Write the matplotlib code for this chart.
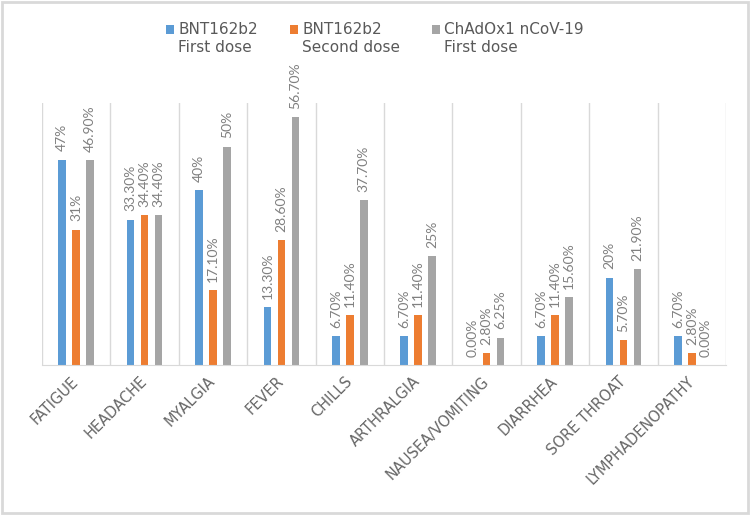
import matplotlib
matplotlib.use("Agg")
import matplotlib.pyplot as plt
import numpy as np
from matplotlib.patches import Rectangle

plt.rcParams['font.family'] = ['Lato', 'DejaVu Sans']

# データ
symptoms = ['FATIGUE', 'HEADACHE', 'MYALGIA', 'FEVER', 'CHILLS', 'ARTHRALGIA',
            'NAUSEA/VOMITING', 'DIARRHEA', 'SORE THROAT', 'LYMPHADENOPATHY']
series_names = ['BNT162b2\nFirst dose', 'BNT162b2\nSecond dose', 'ChAdOx1 nCoV-19\nFirst dose']
bnt_first = [47, 33.3, 40, 13.3, 6.7, 6.7, 0, 6.7, 20, 6.7]
bnt_second = [31, 34.4, 17.1, 28.6, 11.4, 11.4, 2.8, 11.4, 5.7, 2.8]
chad_first = [46.9, 34.4, 50, 56.7, 37.7, 25, 6.25, 15.6, 21.9, 0]
bnt_first_labels = ['47%', '33.30%', '40%', '13.30%', '6.70%', '6.70%', '0.00%', '6.70%', '20%', '6.70%']
bnt_second_labels = ['31%', '34.40%', '17.10%', '28.60%', '11.40%', '11.40%', '2.80%', '11.40%', '5.70%', '2.80%']
chad_first_labels = ['46.90%', '34.40%', '50%', '56.70%', '37.70%', '25%', '6.25%', '15.60%', '21.90%', '0.00%']

colors = ['#5B9BD5', '#ED7D31', '#A5A5A5']

fig = plt.figure(figsize=(7.5, 5.15), dpi=100)
ax = fig.add_axes([0.056, 0.291, 0.912, 0.509])

x = np.arange(len(symptoms))
offset = 0.205
width = 0.11
all_values = [bnt_first, bnt_second, chad_first]
all_labels = [bnt_first_labels, bnt_second_labels, chad_first_labels]
handles = []
for i, (vals, labs) in enumerate(zip(all_values, all_labels)):
    bars = ax.bar(x + (i - 1) * offset, vals, width, color=colors[i],
                  label=series_names[i], zorder=2)
    ax.bar_label(bars, labels=labs, rotation=90, padding=6,
                 color='#808080', fontsize=10)
    handles.append(bars)

# 軸の設定
ax.set_xlim(-0.5, len(symptoms) - 0.5)
ax.set_ylim(0, 60)
for b in np.arange(-0.5, len(symptoms), 1):
    ax.axvline(b, color='#d9d9d9', lw=1, zorder=0)
for s in ['top', 'left', 'right']:
    ax.spines[s].set_visible(False)
ax.spines['bottom'].set_color('#d9d9d9')
ax.set_yticks([])
ax.set_xticks(x)
ax.set_xticklabels(symptoms, rotation=45, ha='right', va='center',
                   rotation_mode='anchor', color='#666666', fontsize=10.5,
                   family='DejaVu Sans')
ax.tick_params(axis='x', length=0, pad=10)

leg = fig.legend(handles=handles, labels=series_names, loc='upper center',
                 bbox_to_anchor=(0.5, 0.958), ncol=3, frameon=False,
                 borderpad=0, borderaxespad=0,
                 handlelength=0.5, handleheight=0.5, handletextpad=0.3,
                 columnspacing=2.1, labelcolor='#595959',
                 prop={'family': 'DejaVu Sans', 'size': 11})
for t in leg.get_texts():
    t.set_linespacing(1.3)
for col in leg._legend_handle_box.get_children():
    for item in col.get_children():
        item.align = 'top'
# 凡例マーカーを1行目の中央に寄せる
for h in leg.legend_handles:
    h.set_y(h.get_y() - 2.5)

# 枠
fig.patches.append(Rectangle((0.003, 0.004), 0.994, 0.992, transform=fig.transFigure,
                             fill=False, ec='#d9d9d9', lw=2))

plt.savefig('out.png', dpi=100)
